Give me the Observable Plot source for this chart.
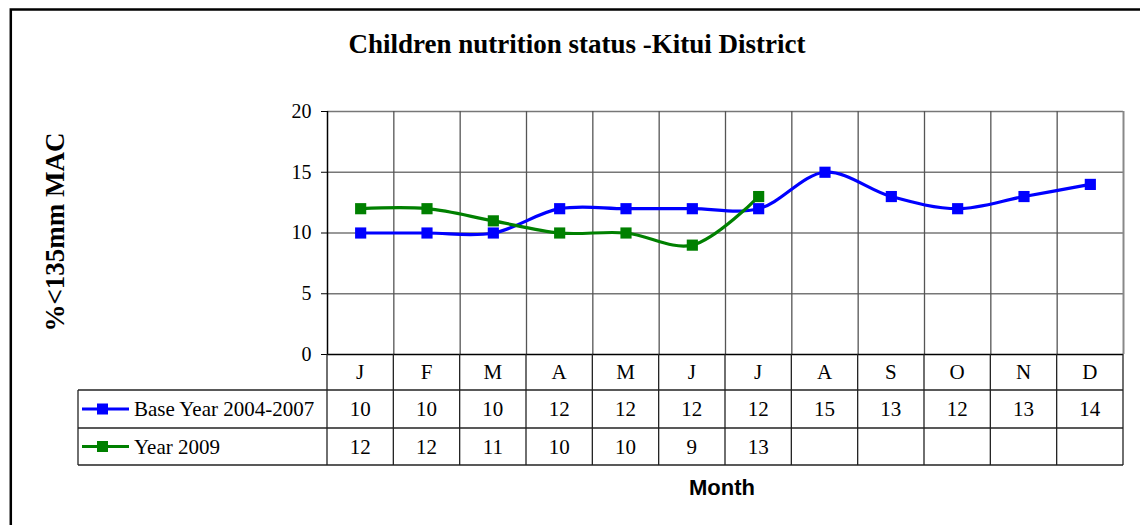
<!DOCTYPE html>
<html><head><meta charset="utf-8">
<script src="https://cdn.jsdelivr.net/npm/d3@7"></script>
<script src="https://cdn.jsdelivr.net/npm/@observablehq/plot@0.6"></script>
<style>
body{margin:0;background:#fff}
#wrap{position:relative;width:1140px;height:525px;overflow:hidden;background:#fff}
</style>
</head><body><div id="wrap"></div>
<script>
const months = ["J","F","M","A","M","J","J","A","S","O","N","D"];
const baseYear = [10,10,10,12,12,12,12,15,13,12,13,14];
const year2009 = [12,12,11,10,10,9,13];
const yTicks = [0,5,10,15,20];
const seriesNames = ["Base Year 2004-2007","Year 2009"];
const seriesColors = ["#0000ff","#008000"];
const seriesValues = [baseYear, year2009];
const title = "Children nutrition status -Kitui District";
const yLabel = "%<135mm MAC";
const xLabel = "Month";

const data = seriesValues.flatMap((vals, k) => vals.map((v, i) => ({i, v, s: seriesNames[k]})));
const edges = d3.range(months.length + 1).map(k => k - 0.5);

const plot = Plot.plot({
  width: 1140, height: 525,
  marginLeft: 327, marginRight: 17, marginTop: 111, marginBottom: 171,
  style: {fontFamily: "'Liberation Serif', serif", fontSize: "20px", color: "#000", background: "#fff", overflow: "visible"},
  x: {type: "linear", domain: [-0.5, months.length - 0.5], axis: null},
  y: {domain: [0, 20], ticks: yTicks, tickSize: 6, tickPadding: 10, label: null, tickFormat: d => d},
  color: {domain: seriesNames, range: seriesColors},
  marks: [
    Plot.ruleY(yTicks.filter(d => d > 0), {stroke: "#777", strokeWidth: 1.3}),
    Plot.ruleX(edges.slice(1, -1), {y1: 0, y2: 20, stroke: "#555", strokeWidth: 1.3}),
    Plot.ruleX(edges.slice(-1), {y1: 0, y2: 20, stroke: "#888", strokeWidth: 2}),
    Plot.ruleX(edges.slice(0, 1), {y1: 0, y2: 20, stroke: "#000", strokeWidth: 1.5}),
    Plot.ruleY([0], {stroke: "#000", strokeWidth: 1.5}),
    Plot.line(data, {x: "i", y: "v", z: "s", stroke: "s", strokeWidth: 3.2, curve: "catmull-rom"}),
    Plot.dot(data, {x: "i", y: "v", fill: "s", symbol: "square", r: 6.3, stroke: "none"})
  ]
});
document.getElementById("wrap").appendChild(plot);

const svg = d3.select(plot);
const sx = plot.scale("x").apply;
const sy = plot.scale("y").apply;
const y0 = sy(0);
const xR = sx(months.length - 0.5);
const legendLeft = 78;
const rowH = [36, 38, 37];
const rowTop = [y0, y0 + rowH[0], y0 + rowH[0] + rowH[1]];
const tableBottom = rowTop[2] + rowH[2];
const serif = "'Liberation Serif', serif";
const tableFont = 21;

// outer border
svg.append("rect").attr("x", 10.8).attr("y", 9.5).attr("width", 1200).attr("height", 700)
  .attr("fill", "none").attr("stroke", "#000").attr("stroke-width", 2.5);

// title and axis labels
svg.append("text").attr("x", 577).attr("y", 53).attr("text-anchor", "middle")
  .attr("font-family", serif).attr("font-weight", "bold").attr("font-size", 27).text(title);
svg.append("text").attr("transform", "translate(64,232) rotate(-90)").attr("text-anchor", "middle")
  .attr("font-family", serif).attr("font-weight", "bold").attr("font-size", 27).text(yLabel);
svg.append("text").attr("x", 722).attr("y", 495).attr("text-anchor", "middle")
  .attr("font-family", "'Liberation Sans', Arial, sans-serif").attr("font-weight", "bold").attr("font-size", 22).text(xLabel);

// data table
const g = svg.append("g").attr("stroke", "#222").attr("stroke-width", 1.3);
edges.forEach(e => g.append("line").attr("x1", sx(e)).attr("x2", sx(e)).attr("y1", y0).attr("y2", tableBottom));
g.append("line").attr("x1", legendLeft).attr("x2", legendLeft).attr("y1", rowTop[1]).attr("y2", tableBottom);
[rowTop[1], rowTop[2], tableBottom].forEach(yy =>
  g.append("line").attr("x1", legendLeft).attr("x2", xR).attr("y1", yy).attr("y2", yy));

const tg = svg.append("g").attr("font-family", serif).attr("font-size", tableFont).attr("text-anchor", "middle");
months.forEach((m, i) => tg.append("text").attr("x", sx(i)).attr("y", rowTop[0] + rowH[0] / 2).attr("dy", "0.35em").text(m));
seriesValues.forEach((vals, k) => {
  vals.forEach((v, i) => tg.append("text").attr("x", sx(i)).attr("y", rowTop[k + 1] + rowH[k + 1] / 2).attr("dy", "0.35em").text(v));
  const cy = rowTop[k + 1] + rowH[k + 1] / 2;
  svg.append("line").attr("x1", 82).attr("x2", 129).attr("y1", cy).attr("y2", cy)
    .attr("stroke", seriesColors[k]).attr("stroke-width", 3);
  svg.append("rect").attr("x", 97).attr("y", cy - 5.5).attr("width", 11).attr("height", 11).attr("fill", seriesColors[k]);
  svg.append("text").attr("x", 134).attr("y", cy).attr("dy", "0.35em").attr("text-anchor", "start")
    .attr("font-family", serif).attr("font-size", tableFont).text(seriesNames[k]);
});
</script>
</body></html>
